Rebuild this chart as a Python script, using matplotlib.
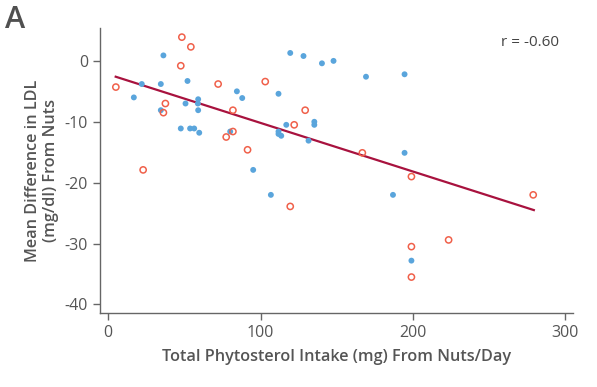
import matplotlib
matplotlib.use("Agg")
import matplotlib.pyplot as plt

# open red circles
red_x = [48.4, 54.3, 47.7, 5.1, 72.2, 103.1, 37.6, 36.3, 81.9, 129.3, 122.1,
         81.9, 77.5, 91.5, 23.0, 166.8, 199.0, 119.5, 278.9, 223.4, 199.0, 199.0]
red_y = [3.9, 2.3, -0.8, -4.3, -3.8, -3.4, -7.0, -8.5, -8.1, -8.1, -10.5,
         -11.6, -12.5, -14.6, -17.9, -15.1, -19.0, -23.9, -22.0, -29.4, -30.5, -35.5]

# filled blue dots
blue_x = [36.3, 119.5, 128.2, 140.3, 147.9, 169.2, 194.5, 22.1, 34.6, 52.1,
          16.9, 84.5, 88.0, 111.8, 59.1, 58.9, 50.8, 34.6, 59.1, 47.7, 53.8,
          56.5, 59.8, 80.1, 111.8, 111.8, 113.6, 116.9, 135.3, 135.3, 131.5,
          95.2, 194.5, 106.8, 186.9, 199.0]
blue_y = [0.9, 1.3, 0.8, -0.4, 0.0, -2.6, -2.2, -3.8, -3.8, -3.3,
          -6.0, -5.0, -6.1, -5.4, -6.3, -7.0, -7.0, -8.1, -8.1, -11.1, -11.1,
          -11.1, -11.8, -11.6, -11.6, -12.0, -12.3, -10.5, -10.0, -10.5, -13.1,
          -17.9, -15.1, -22.0, -22.0, -32.8]

# regression line ends
fit_x = [5.0, 279.3]
fit_y = [-2.6, -24.5]

x_ticks = [0, 100, 200, 300]
y_ticks = [0, -10, -20, -30, -40]

gray = "#555555"
plt.rcParams["font.family"] = ["Open Sans", "DejaVu Sans"]

fig = plt.figure(figsize=(5.97, 3.87), dpi=100)
ax = fig.add_axes([100 / 597, 1 - 313 / 387, 473 / 597, 285 / 387])

ax.plot(fit_x, fit_y, color="#a8123e", lw=1.6, zorder=2)
ax.scatter(blue_x, blue_y, s=18, color="#5aa5dc", edgecolors="none", zorder=3)
ax.scatter(red_x, red_y, s=20, facecolors="none", edgecolors="#f0604a",
           linewidths=1.1, zorder=3)

ax.set_xlim(-5.3, 305)
ax.set_ylim(-41.4, 5.4)
ax.set_xticks(x_ticks)
ax.set_yticks(y_ticks)
ax.set_yticklabels([str(t) for t in y_ticks])

for s in ["top", "right"]:
    ax.spines[s].set_visible(False)
for s in ["left", "bottom"]:
    ax.spines[s].set_color("#666666")
    ax.spines[s].set_linewidth(1.0)
ax.tick_params(colors="#666666", labelcolor=gray, labelsize=11.5, length=5, width=1)

ax.set_xlabel("Total Phytosterol Intake (mg) From Nuts/Day", fontsize=11.7,
              color=gray, fontweight="semibold", labelpad=6)
ax.set_ylabel("Mean Difference in LDL\n(mg/dl) From Nuts", fontsize=11.7,
              color=gray, fontweight="semibold", labelpad=4)

ax.text(0.97, 0.95, "r = -0.60", transform=ax.transAxes, ha="right", va="center",
        fontsize=11, color="#444444")
fig.text(5 / 597, 1 - 20 / 387, "A", fontsize=22, color="#505050",
         fontweight="semibold", va="center")

fig.savefig("out.png", dpi=100)
